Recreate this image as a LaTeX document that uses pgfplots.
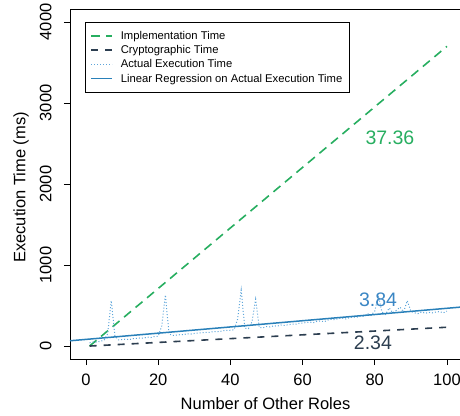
\documentclass[border=0pt]{standalone}
\usepackage{fontspec}
\setmainfont{Liberation Sans}
\usepackage{pgfplots}
\pgfplotsset{compat=1.18}
\definecolor{impl}{HTML}{27AE60}
\definecolor{crypto}{HTML}{2C3E50}
\definecolor{actual}{HTML}{5DA5DA}
\definecolor{regr}{HTML}{2980B9}
\definecolor{regrtxt}{HTML}{3A86C4}

\pgfplotstableread{
x y
1 40
2 50
3 48
4 60
5 70
6 150
7 560
8 130
9 75
10 80
11 85
12 78
13 92
14 95
15 100
16 98
17 110
18 105
19 118
20 120
21 250
22 630
23 150
24 130
25 135
26 140
27 142
28 150
29 148
30 155
31 160
32 162
33 170
34 168
35 175
36 180
37 178
38 190
39 192
40 195
41 200
42 330
43 690
44 220
45 215
46 300
47 577
48 230
49 225
50 240
51 235
52 250
53 245
54 260
55 255
56 262
57 270
58 268
59 280
60 284
61 290
62 295
63 288
64 305
65 310
66 300
67 320
68 330
69 325
70 340
71 345
72 335
73 350
74 360
75 355
76 370
77 365
78 400
79 380
80 430
81 620
82 420
83 390
84 470
85 410
86 440
87 480
88 420
89 560
90 430
91 410
92 400
93 420
94 405
95 415
96 410
97 420
98 425
99 410
100 430
}\actualdata

\begin{document}
\begin{tikzpicture}
\begin{axis}[
  at={(70pt,56pt)}, anchor=south west,
  scale only axis,
  width=391pt, height=350pt,
  xmin=-4.43, xmax=103.9,
  ymin=-160, ymax=4160,
  xtick={0,20,40,60,80,100},
  ytick={0,1000,2000,3000,4000},
  tick pos=left,
  tick align=outside,
  major tick length=6pt,
  axis line style={line width=0.9pt},
  tick style={line width=0.8pt, black},
  /pgf/number format/assume math mode=true,
  /pgf/number format/1000 sep={},
  ticklabel style={font=\fontsize{16.5}{18}\selectfont},
  xticklabel shift=5pt,
  yticklabel shift=9pt,
  yticklabel style={rotate=90, anchor=south},
  xlabel={Number of Other Roles},
  ylabel={Execution Time (ms)},
  xlabel style={at={(axis description cs:0.5,-0.1286)}, anchor=center},
  ylabel style={at={(axis description cs:-0.1253,0.49)}, anchor=center},
  label style={font=\fontsize{16.5}{18}\selectfont},
  legend style={at={(0.0384,0.963)}, anchor=north west,
    font=\fontsize{11.25}{13.7}\selectfont, draw=black,
    inner xsep=5pt, inner ysep=7pt, row sep=0.6pt, column sep=6pt,
    cells={anchor=west}},
  legend image code/.code={\draw[#1] (0pt,0pt) -- (21pt,0pt);},
]
\addplot[impl, line width=1.6pt, dash pattern=on 9pt off 6pt] coordinates {(1,0) (100,3699)};
\addlegendentry{Implementation Time}
\addplot[crypto, line width=1.6pt, dash pattern=on 7pt off 7pt] coordinates {(1,0) (100,232)};
\addlegendentry{Cryptographic Time}
\addplot[actual, line width=1pt, dotted] table[x=x, y=y] {\actualdata};
\addlegendentry{Actual Execution Time}
\addplot[regr, line width=1.5pt] coordinates {(-4.43,65) (103.9,481)};
\addlegendentry{Linear Regression on Actual Execution Time}
\node[impl, font=\fontsize{19.5}{21}\selectfont] at (axis cs:84.2,2568) {37.36};
\node[regrtxt, font=\fontsize{19.5}{21}\selectfont] at (axis cs:80.9,568) {3.84};
\node[crypto, font=\fontsize{19.5}{21}\selectfont] at (axis cs:79.5,45) {2.34};
\end{axis}
\pgfresetboundingbox
\path (0pt,0pt) rectangle (460pt,415pt);
\end{tikzpicture}
\end{document}
